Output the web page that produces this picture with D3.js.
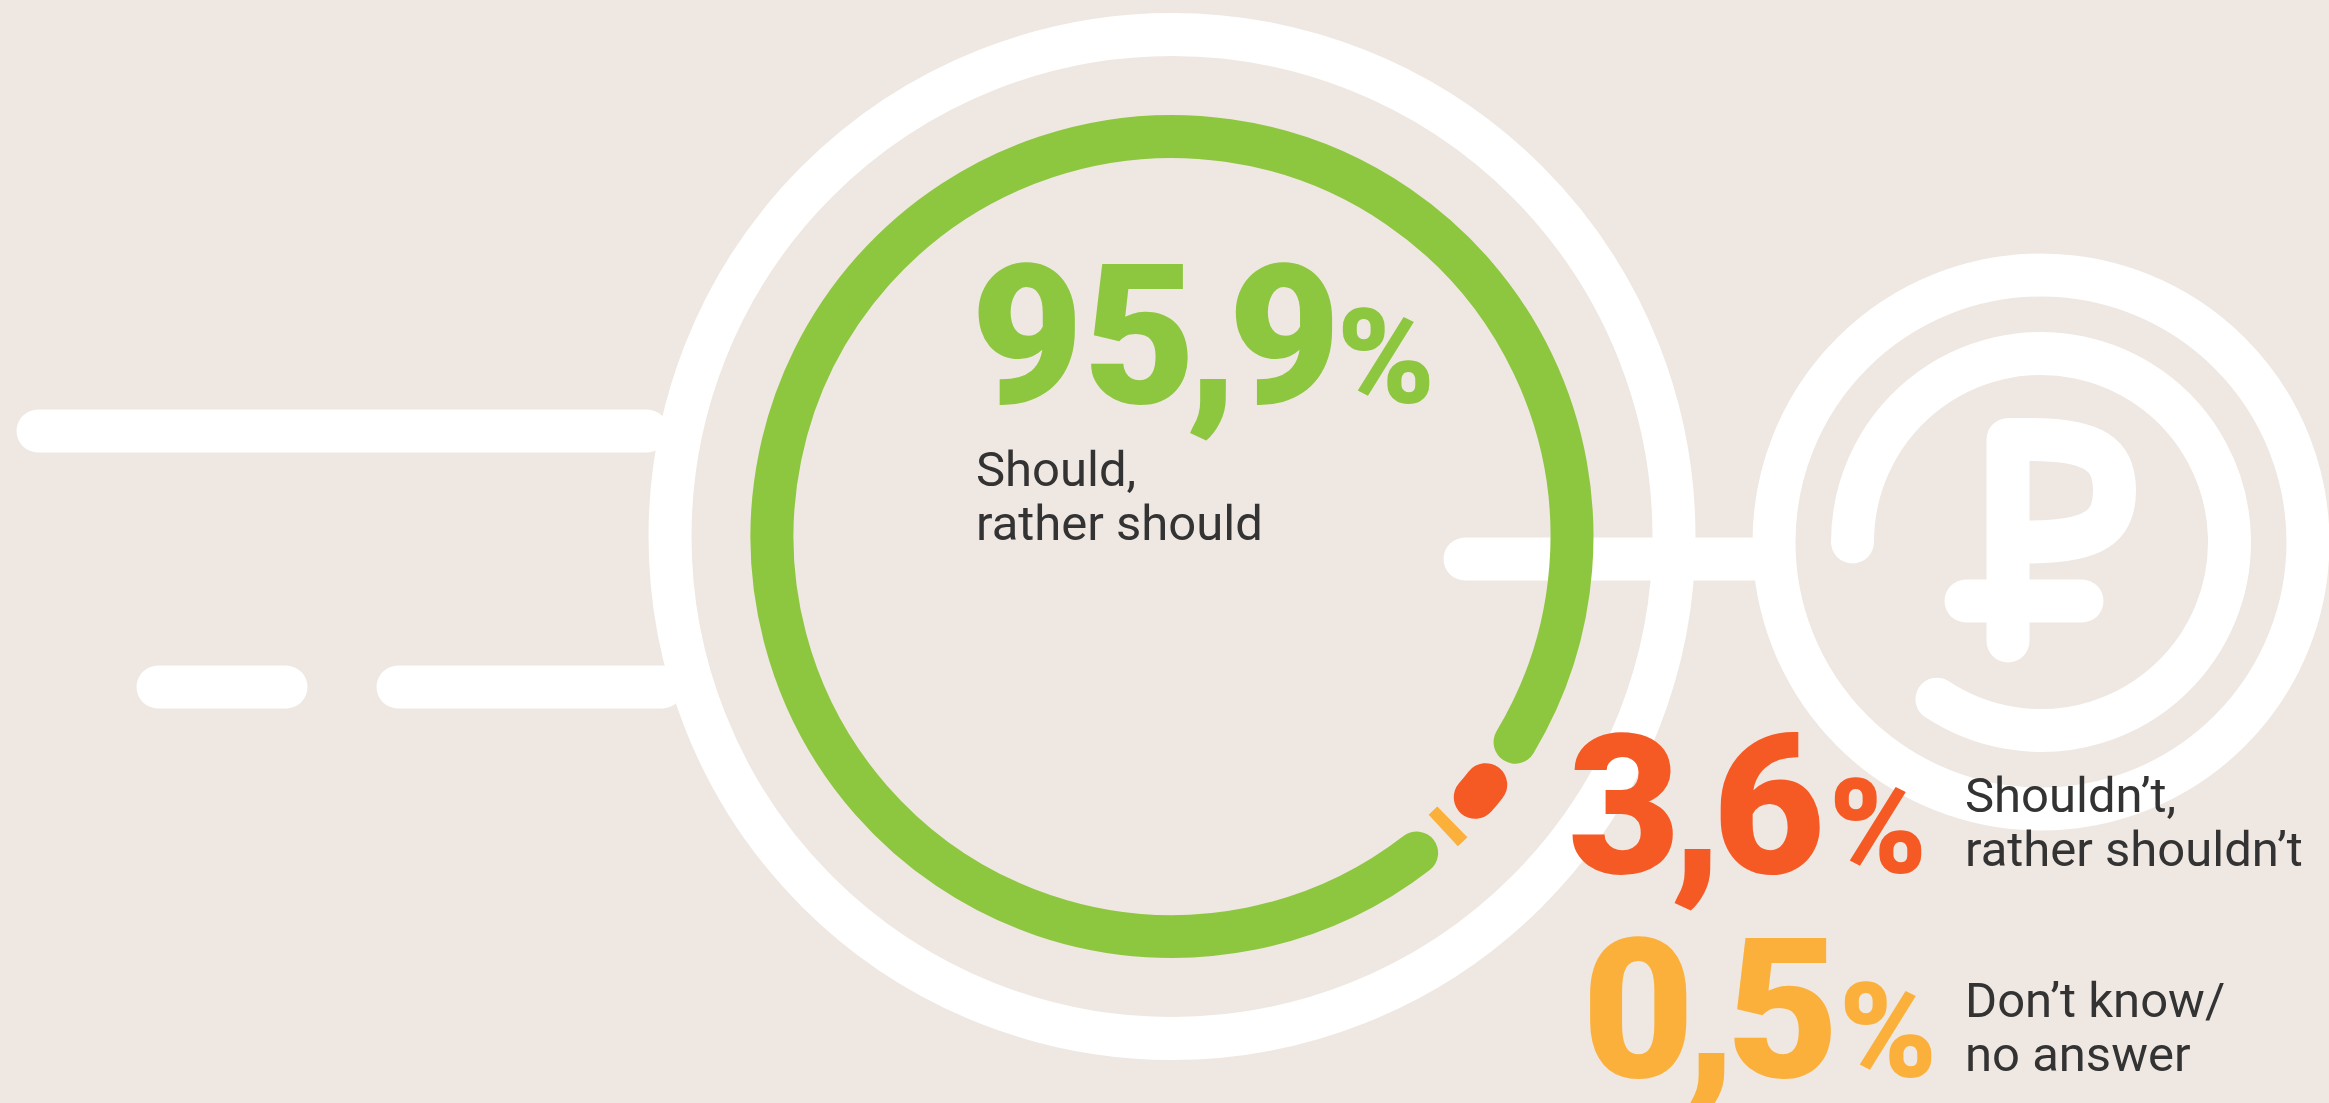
<!DOCTYPE html>
<html><head><meta charset="utf-8">
<script src="https://cdn.jsdelivr.net/npm/d3@7"></script>
<style>html,body{margin:0;padding:0;background:#efe7e1;overflow:hidden}svg{display:block}text{font-family:Roboto,sans-serif}</style>
</head><body><svg id="c" width="2329" height="1103"></svg>
<script>
// ---- data ----
const categories = ["should", "shouldnt", "dontknow"];
const values = [95.9, 3.6, 0.5];
const labelLines = [["Should,", "rather should"], ["Shouldn’t,", "rather shouldn’t"], ["Don’t know/", "no answer"]];
const colors = ["#8dc63f", "#f55a25", "#fbb03b"];
// ---- layout ----
const W = 2329, H = 1103, SW = 43;
const cx = 1172, cy = 536.5;
const startDeg = 139.2;
const capInsetDeg = [3.3, 5.3, 0];     // drawn arc is inset for its rounded caps
const nudgeDeg = [-0.2, -1.4, -1.9];
const caps = ["round", "round", "butt"];
const valuePos = [[971, 403], [1568, 873], [1582, 1077]];
const pctPos = [[1337, 403], [1829, 873], [1839, 1077]];
const labelPos = [[976, 486], [1965, 812], [1965, 1017]];

const svg = d3.select("#c");
svg.append("rect").attr("width", W).attr("height", H).attr("fill", "#efe7e1");
const angle = d3.scaleLinear().domain([0, 100]).range([0, 360]);
const rad = d => (d - 90) * Math.PI / 180;
const white = svg.append("g").attr("fill", "none").attr("stroke", "#fff").attr("stroke-width", SW).attr("stroke-linecap", "round").attr("stroke-linejoin", "round");

// speed lines and connector
[[38, 647, 431], [158, 286, 687], [398, 662, 687], [1465, 1770, 559]].forEach(b =>
  white.append("path").attr("d", d3.line()([[b[0], b[2]], [b[1], b[2]]])));
white.append("circle").attr("cx", cx).attr("cy", cy).attr("r", 502);

// coin
const ccx = 2041, ccy = 542;
white.append("circle").attr("cx", ccx).attr("cy", ccy).attr("r", 267);
const coinArc = d3.path(); coinArc.arc(ccx, ccy, 188.5, rad(270), rad(360 + 213.5));
white.append("path").attr("d", coinArc.toString());
white.append("path").attr("d", "M2008,641 V439.5 H2030 C2095,439.5 2114.5,455 2114.5,490.5 C2114.5,526 2095,542 2030,542 H2008");
white.append("path").attr("d", d3.line()([[1966, 601], [2082, 601]]));

// share ring
let acc = startDeg;
const rings = svg.append("g").attr("fill", "none").attr("stroke-width", SW);
values.forEach((v, i) => {
  const span = angle(v);
  const p = d3.path();
  p.arc(cx, cy, 400, rad(acc + capInsetDeg[i] + nudgeDeg[i]), rad(acc + span - capInsetDeg[i] + nudgeDeg[i]));
  rings.append("path").attr("d", p.toString()).attr("stroke", colors[i]).attr("stroke-linecap", caps[i]);
  acc += span;
});

// texts
const fmt = v => String(v).replace(".", ",");
values.forEach((v, i) => {
  const [whole, frac] = fmt(v).split(",");
  const t = svg.append("text").attr("x", valuePos[i][0]).attr("y", valuePos[i][1]).attr("fill", colors[i])
    .attr("font-size", 194).attr("font-weight", 900);
  t.append("tspan").text(whole);
  t.append("tspan").attr("dx", -10).text(",");
  t.append("tspan").attr("dx", -10).text(frac);
  svg.append("text").attr("x", pctPos[i][0]).attr("y", pctPos[i][1]).attr("fill", colors[i])
    .attr("font-size", 132).attr("font-weight", 900).text("%");
  labelLines[i].forEach((s, j) => svg.append("text").attr("x", labelPos[i][0]).attr("y", labelPos[i][1] + j * 53.5)
    .attr("fill", "#333").attr("font-size", 49).text(s));
});
</script></body></html>
